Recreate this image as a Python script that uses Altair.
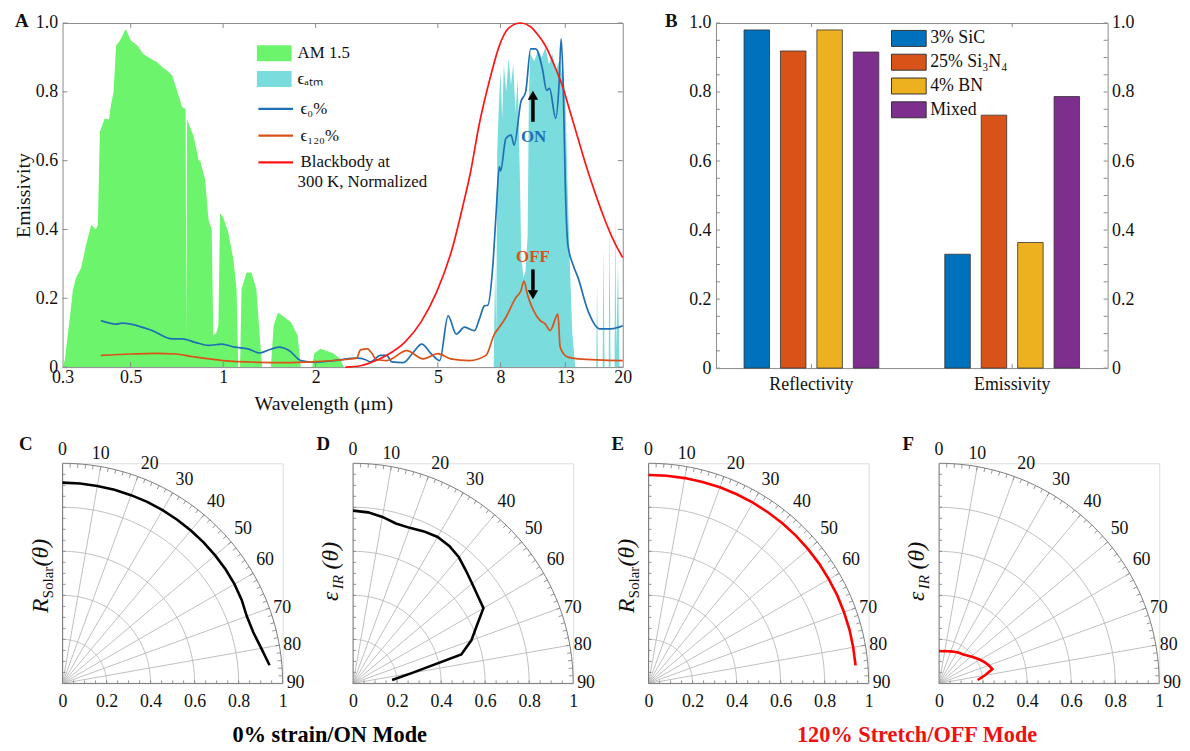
import altair as alt
import pandas as pd

SERIF = "Liberation Serif"
TXT = "#111111"
FRAME = "#8a8a8a"
GRID = "#b8b8b8"
GREEN = "#6cf56c"
TEAL = "#7adcdc"
BLUE = "#1f6fb5"
ORANGE = "#d95319"
RED = "#ff1414"

# ---------------- Panel A data ----------------
am_wl = [0.300, 0.305, 0.317, 0.324, 0.332, 0.345, 0.358, 0.372, 0.385, 0.391, 0.395, 0.397, 0.411, 0.425,
         0.431, 0.440, 0.448, 0.462, 0.482, 0.500, 0.526, 0.550, 0.581, 0.610, 0.633, 0.660, 0.682, 0.710,
         0.735, 0.755, 0.759, 0.763, 0.772, 0.802, 0.832, 0.842, 0.874, 0.896, 0.918, 0.929, 0.950, 0.965,
         0.977, 1.002, 1.040, 1.080, 1.106, 1.120, 1.135, 1.148, 1.191, 1.236, 1.283, 1.315, 1.340, 1.430,
         1.460, 1.508, 1.584, 1.664, 1.748, 1.790, 1.950, 1.980, 2.077, 2.200, 2.293, 2.400, 2.470]
am_val = [0.000, 0.019, 0.145, 0.222, 0.260, 0.289, 0.356, 0.414, 0.400, 0.414, 0.600, 0.684, 0.722, 0.720,
          0.761, 0.800, 0.934, 0.950, 0.983, 0.950, 0.934, 0.910, 0.896, 0.886, 0.872, 0.860, 0.848, 0.800,
          0.756, 0.750, 0.080, 0.720, 0.708, 0.670, 0.602, 0.600, 0.544, 0.429, 0.400, 0.092, 0.100, 0.120,
          0.448, 0.434, 0.390, 0.313, 0.226, 0.000, 0.000, 0.226, 0.275, 0.275, 0.226, 0.092, 0.000, 0.000,
          0.120, 0.159, 0.145, 0.130, 0.092, 0.000, 0.000, 0.040, 0.053, 0.045, 0.039, 0.025, 0.000]

atm_wl = [7.60, 7.68, 7.75, 7.80, 7.90, 8.00, 8.10, 8.20, 8.35, 8.50, 8.65, 8.80, 8.95, 9.10, 9.25, 9.35,
          9.50, 9.65, 9.80, 9.90, 10.0, 10.3, 10.6, 10.9, 11.2, 11.5, 11.8, 12.1, 12.4, 12.7, 13.0, 13.2,
          13.45, 13.7, 14.0, 16.4, 16.5, 16.6, 17.2, 17.3, 17.45, 18.0, 18.1, 18.25, 18.8, 18.9, 19.05, 19.3,
          19.5, 20.0]
atm_val = [0.00, 0.30, 0.10, 0.62, 0.76, 0.86, 0.72, 0.88, 0.80, 0.90, 0.82, 0.88, 0.74, 0.84, 0.55, 0.32,
           0.26, 0.28, 0.38, 0.80, 0.91, 0.89, 0.92, 0.90, 0.93, 0.88, 0.91, 0.86, 0.89, 0.85, 0.80, 0.55,
           0.30, 0.10, 0.00, 0.00, 0.25, 0.00, 0.00, 0.35, 0.00, 0.00, 0.42, 0.00, 0.00, 0.45, 0.05, 0.30,
           0.00, 0.00]

e0_wl = [0.40, 0.448, 0.47, 0.50, 0.588, 0.682, 0.735, 0.811, 0.896, 0.989, 1.092, 1.206, 1.315, 1.39,
         1.525, 1.64, 1.79, 2.0, 2.29, 2.73, 2.9, 3.02, 3.25, 3.41, 3.54, 3.865, 4.16, 4.43, 4.77, 5.07,
         5.40, 5.74, 6.11, 6.58, 6.83, 7.09, 7.27, 7.55, 7.74, 7.93, 8.0, 8.33, 8.66, 8.86, 9.32, 9.66,
         10.03, 10.41, 10.95, 11.3, 11.55, 12.1, 12.4, 12.6, 12.8, 13.0, 13.25, 13.76, 14.3, 15.4, 16.84,
         18.3, 20.0]
e0_val = [0.135, 0.125, 0.128, 0.125, 0.106, 0.082, 0.082, 0.072, 0.063, 0.067, 0.058, 0.053, 0.041, 0.048,
          0.058, 0.048, 0.019, 0.014, 0.019, 0.026, 0.022, 0.015, 0.034, 0.034, 0.015, 0.013, 0.043, 0.067,
          0.038, 0.019, 0.149, 0.096, 0.116, 0.106, 0.140, 0.178, 0.180, 0.294, 0.448, 0.583, 0.570, 0.665,
          0.674, 0.645, 0.771, 0.800, 0.925, 0.925, 0.867, 0.804, 0.810, 0.723, 0.819, 0.954, 0.819, 0.530,
          0.356, 0.299, 0.260, 0.164, 0.111, 0.111, 0.120]

e120_wl = [0.40, 0.50, 0.60, 0.70, 0.80, 1.00, 1.30, 1.60, 2.00, 2.50, 2.72, 2.80, 2.95, 3.05, 3.15, 3.41,
           3.96, 4.48, 5.01, 5.50, 6.34, 7.17, 7.64, 7.93, 8.33, 8.97, 9.32, 9.54, 9.78, 10.25, 10.77, 11.2,
           11.6, 12.3, 12.5, 12.8, 13.25, 14.3, 20.0]
e120_val = [0.034, 0.038, 0.040, 0.038, 0.030, 0.019, 0.014, 0.013, 0.016, 0.022, 0.026, 0.050, 0.053, 0.040,
            0.022, 0.019, 0.048, 0.024, 0.039, 0.024, 0.019, 0.034, 0.096, 0.116, 0.145, 0.202, 0.222, 0.250,
            0.212, 0.164, 0.135, 0.125, 0.106, 0.154, 0.060, 0.040, 0.029, 0.024, 0.019]

bb_wl = [2.5, 2.8, 3.0, 3.4, 3.9, 4.4, 4.95, 5.6, 6.0, 6.4, 6.8, 7.4, 7.9, 8.5, 9.3, 10.0, 10.6, 11.2, 12.0,
         12.7, 13.5, 14.35, 15.2, 16.2, 17.2, 18.3, 19.1, 20.0]
bb_val = [0.000, 0.004, 0.012, 0.034, 0.072, 0.130, 0.217, 0.352, 0.460, 0.570, 0.700, 0.840, 0.930, 0.985,
          1.000, 0.990, 0.965, 0.934, 0.875, 0.819, 0.740, 0.660, 0.585, 0.510, 0.445, 0.385, 0.350, 0.318]

a_xticks = [0.3, 0.5, 1, 2, 5, 8, 13, 20]
a_xinner = [0.5, 1, 2, 5, 8, 13]
a_yticks = [0, 0.2, 0.4, 0.6, 0.8, 1.0]

# ON / OFF annotations
ann_wl = [10.25, 10.2]
ann_v = [0.67, 0.32]
ann_txt = ["ON", "OFF"]
arrow_wl = [10.2, 10.2]
arrow_from = [0.713, 0.284]
arrow_to = [0.778, 0.222]
head_v = [0.790, 0.210]
head_dir = ["up", "down"]

# ---------------- Panel B data ----------------
groups = ["Reflectivity", "Emissivity"]
materials = ["3% SiC", "25% Si₃N₄", "4% BN", "Mixed"]
refl_vals = [0.980, 0.919, 0.980, 0.916]
emis_vals = [0.330, 0.733, 0.364, 0.787]
b_colors = ["#0072bd", "#d95319", "#edb120", "#7e2f8e"]
b_yticks = [0, 0.2, 0.4, 0.6, 0.8, 1.0]
b_minor = [0.05 * i for i in range(21)]

# ---------------- Polar data ----------------
theta_deg = [0, 5, 10, 15, 20, 25, 30, 35, 40, 45, 50, 55, 60, 65, 70, 75, 80, 85]
rC = [0.912, 0.912, 0.911, 0.911, 0.910, 0.910, 0.909, 0.908, 0.907, 0.906, 0.905, 0.904, 0.902, 0.898,
      0.891, 0.897, 0.917, 0.944]
rD = [0.785, 0.780, 0.768, 0.752, 0.752, 0.762, 0.768, 0.762, 0.748, 0.725, 0.706, 0.692, 0.684, 0.620,
      0.572, 0.509, 0.270, 0.178]
rE = [0.947, 0.947, 0.947, 0.947, 0.948, 0.948, 0.948, 0.948, 0.948, 0.948, 0.947, 0.947, 0.946, 0.946,
      0.945, 0.945, 0.944, 0.944]
rF = [0.147, 0.147, 0.149, 0.151, 0.155, 0.159, 0.163, 0.167, 0.172, 0.180, 0.190, 0.202, 0.215, 0.228,
      0.240, 0.251, 0.212, 0.176]
ring_vals = [0.2, 0.4, 0.6, 0.8]
spoke_degs = [10, 20, 30, 40, 50, 60, 70, 80]
radial_ticks = [0, 0.2, 0.4, 0.6, 0.8, 1.0]

one = pd.DataFrame({"k": [0]})


def txt(text, x, y, size=18, weight="normal", style="normal", color=TXT, align="center",
        baseline="middle", angle=0, opacity=1.0):
    return alt.Chart(one).mark_text(
        text=text, font=SERIF, fontSize=size, fontWeight=weight, fontStyle=style, color=color,
        align=align, baseline=baseline, angle=angle, opacity=opacity
    ).encode(x=alt.value(x), y=alt.value(y))


# ================= Panel A =================
WA, HA = 565, 347
xA = alt.X("wl:Q", scale=alt.Scale(type="log", domain=[0.3, 20], nice=False),
           axis=alt.Axis(values=a_xticks, labelExpr="format(datum.value, '~g')", title="Wavelength (μm)",
                         ticks=False, domain=False, grid=False, labelFont=SERIF, labelFontSize=18,
                         labelColor=TXT, labelPadding=2, labelFlush=False, labelOverlap=False,
                         titleFont=SERIF, titleFontSize=20, titleFontWeight="normal", titleColor=TXT,
                         titlePadding=7, titleX=263))
yA = alt.Y("v:Q", stack=None, scale=alt.Scale(domain=[0, 1], nice=False),
           axis=alt.Axis(values=a_yticks, labelExpr="datum.value == 0 ? '0' : format(datum.value, '.1f')",
                         title="Emissivity", ticks=False, domain=False, grid=False, labelFont=SERIF,
                         labelFontSize=18, labelColor=TXT, labelPadding=5, titleFont=SERIF,
                         titleFontSize=20, titleFontWeight="normal", titleColor=TXT, titlePadding=2))

area_df = pd.concat([
    pd.DataFrame({"wl": am_wl, "v": am_val, "s": "am"}),
    pd.DataFrame({"wl": atm_wl, "v": atm_val, "s": "atm"}),
])
areas = alt.Chart(area_df).mark_area(opacity=1, interpolate="linear").encode(
    x=xA, y=yA,
    fill=alt.Fill("s:N", scale=alt.Scale(domain=["am", "atm"], range=[GREEN, TEAL]),
                  legend=alt.Legend(orient="none", legendX=196, legendY=13, title=None, padding=0,
                                    symbolType="M-1,-0.46H1V0.46H-1Z", symbolSize=1225, symbolStrokeWidth=0,
                                    symbolOpacity=1, labelFont=SERIF, labelFontSize=17, labelColor=TXT,
                                    labelOffset=6, rowPadding=-5,
                                    labelExpr="datum.value == 'am' ? 'AM 1.5' : 'ϵₐₜₘ'")))

line_df = pd.concat([
    pd.DataFrame({"wl": e0_wl, "v": e0_val, "s": "e0"}),
    pd.DataFrame({"wl": e120_wl, "v": e120_val, "s": "e120"}),
    pd.DataFrame({"wl": bb_wl, "v": bb_val, "s": "bb"}),
])
lines = alt.Chart(line_df).mark_line(strokeWidth=1.7, interpolate="monotone").encode(
    x=xA, y=yA,
    stroke=alt.Stroke("s:N", scale=alt.Scale(domain=["e0", "e120", "bb"], range=[BLUE, ORANGE, RED]),
                      legend=alt.Legend(orient="none", legendX=196, legendY=67.5, title=None, padding=0,
                                        symbolType="M-1,0H1", symbolSize=1225, symbolStrokeWidth=2.2,
                                        labelFont=SERIF, labelFontSize=17, labelColor=TXT, labelOffset=6,
                                        rowPadding=-6.5,
                                        labelExpr="datum.value == 'e0' ? 'ϵ₀%' : datum.value == 'e120' ? 'ϵ₁₂₀%' : 'Blackbody at'")))

ytA = pd.DataFrame({"v": a_yticks})
xtA = pd.DataFrame({"wl": a_xinner})
tick_l = alt.Chart(ytA).mark_rule(color=FRAME).encode(y=yA, x=alt.value(0), x2=alt.value(5))
tick_r = alt.Chart(ytA).mark_rule(color=FRAME).encode(y=yA, x=alt.value(WA - 5), x2=alt.value(WA))
tick_b = alt.Chart(xtA).mark_rule(color=FRAME).encode(x=xA, y=alt.value(HA - 5), y2=alt.value(HA))
tick_t = alt.Chart(xtA).mark_rule(color=FRAME).encode(x=xA, y=alt.value(0), y2=alt.value(5))

ann_df = pd.DataFrame({"wl": ann_wl, "v": ann_v, "t": ann_txt})
ann = alt.Chart(ann_df).mark_text(font=SERIF, fontSize=17, fontWeight="bold").encode(
    x=xA, y=yA, text="t:N",
    color=alt.Color("t:N", scale=alt.Scale(domain=["ON", "OFF"], range=[BLUE, ORANGE]), legend=None))
arr_df = pd.DataFrame({"wl": arrow_wl, "v": arrow_from, "v2": arrow_to})
shafts = alt.Chart(arr_df).mark_rule(color="black", strokeWidth=3.5).encode(x=xA, y=yA, y2="v2:Q")
head_df = pd.DataFrame({"wl": arrow_wl, "v": head_v, "d": head_dir})
heads = alt.Chart(head_df).mark_point(filled=True, color="black", opacity=1, size=110).encode(
    x=xA, y=yA,
    shape=alt.Shape("d:N", scale=alt.Scale(domain=["up", "down"], range=["triangle-up", "triangle-down"]),
                    legend=None))

panel_A = alt.layer(
    areas, lines, tick_l, tick_r, tick_b, tick_t, shafts, heads, ann,
    txt("300 K, Normalized", 237, 160, size=17, align="left"),
    txt("A", -41, -11, size=19, weight="bold", baseline="top"),
    txt("A", -50, 0, size=10, align="left", opacity=0),
).properties(width=WA, height=HA, view=alt.ViewBackground(stroke=FRAME, strokeWidth=1))

# ================= Panel B =================
WB, HB = 395, 348
b_df = pd.DataFrame({
    "group": [g for g in groups for _ in materials],
    "material": materials * 2,
    "val": refl_vals + emis_vals,
})
b_axis_x = alt.Axis(title=None, ticks=False, domain=False, labelAngle=0, labelFont=SERIF, labelFontSize=18,
                    labelColor=TXT, labelPadding=8)
b_xscale = alt.Scale(paddingInner=0.1, paddingOuter=0.0255)
xB = alt.X("group:N", sort=groups, scale=b_xscale, axis=b_axis_x)
xBc = alt.X("group:N", sort=groups, scale=b_xscale, axis=b_axis_x, bandPosition=0.5)
b_ylab = "datum.value == 0 ? '0' : format(datum.value, '.1f')"
yB = alt.Y("val:Q", scale=alt.Scale(domain=[0, 1], nice=False),
           axis=alt.Axis(values=b_yticks, labelExpr=b_ylab, title=None, ticks=False, domain=False, grid=False,
                         labelFont=SERIF, labelFontSize=18, labelColor=TXT, labelPadding=5))
# legend symbol: 35x16 rectangle drawn from a path twice as wide as the nominal symbol size
bars = alt.Chart(b_df).mark_bar(stroke="#333333", strokeWidth=0.8).encode(
    x=xB,
    xOffset=alt.XOffset("material:N", sort=materials, scale=alt.Scale(paddingInner=0.3, paddingOuter=0.63)),
    y=yB,
    color=alt.Color("material:N", sort=materials, scale=alt.Scale(domain=materials, range=b_colors),
                    legend=alt.Legend(orient="none", legendX=185, legendY=6, title=None, padding=0,
                                      symbolType="M-2,-0.92H2V0.92H-2Z", symbolSize=306,
                                      symbolStrokeColor="#333333", symbolStrokeWidth=1, symbolOpacity=1,
                                      labelFont=SERIF, labelFontSize=18, labelColor=TXT, labelOffset=12,
                                      rowPadding=3)))
bm_df = pd.DataFrame({"val": b_minor})
b_tick_l = alt.Chart(bm_df).mark_rule(color=FRAME).encode(
    y=alt.Y("val:Q", scale=alt.Scale(domain=[0, 1], nice=False), axis=None),
    x=alt.value(0), x2=alt.value(4))
b_tick_r = alt.Chart(bm_df).mark_rule(color=FRAME).encode(
    y=alt.Y("val:Q", scale=alt.Scale(domain=[0, 1], nice=False),
            axis=alt.Axis(orient="right", values=b_yticks, labelExpr=b_ylab, title=None, ticks=False,
                          domain=False, grid=False, labelFont=SERIF, labelFontSize=18, labelColor=TXT,
                          labelPadding=4)),
    x=alt.value(WB - 4), x2=alt.value(WB))
bg_df = pd.DataFrame({"group": groups})
b_tick_t = alt.Chart(bg_df).mark_rule(color=FRAME).encode(x=xBc, y=alt.value(0), y2=alt.value(4))
b_tick_b = alt.Chart(bg_df).mark_rule(color=FRAME).encode(x=xBc, y=alt.value(HB - 4), y2=alt.value(HB))

panel_B = alt.layer(
    bars, b_tick_l, b_tick_r, b_tick_t, b_tick_b,
    txt("B", -45, -11, size=19, weight="bold", baseline="top"),
).resolve_scale(y="independent").properties(width=WB, height=HB,
                                            view=alt.ViewBackground(stroke=FRAME, strokeWidth=1))

# ================= Polar panels =================
P = 222
DEG = "PI/180"


def polar_panel(letter, r_vals, line_color, kind, letter_x, spacer_x=None):
    xP = alt.X("x:Q", scale=alt.Scale(domain=[0, 1], nice=False, zero=False),
               axis=alt.Axis(values=radial_ticks,
                             labelExpr="datum.value == 0 ? '0' : datum.value == 1 ? '1' : format(datum.value, '.1f')",
                             title=None, ticks=False, domain=False, grid=False, labelFont=SERIF,
                             labelFontSize=18, labelColor=TXT, labelPadding=9, labelFlush=False,
                             labelOverlap=False))
    yP = alt.Y("y:Q", scale=alt.Scale(domain=[0, 1], nice=False, zero=False), axis=None)

    ring_df = pd.DataFrame([(r, d) for r in ring_vals for d in range(0, 91)], columns=["r", "deg"])
    rings = alt.Chart(ring_df).transform_calculate(
        x=f"datum.r*sin(datum.deg*{DEG})", y=f"datum.r*cos(datum.deg*{DEG})"
    ).mark_line(color=GRID, strokeWidth=0.9).encode(x=xP, y=yP, detail="r:N", order="deg:Q")

    outer_df = pd.DataFrame({"r": 1.0, "deg": list(range(0, 91))})
    outer = alt.Chart(outer_df).transform_calculate(
        x=f"datum.r*sin(datum.deg*{DEG})", y=f"datum.r*cos(datum.deg*{DEG})"
    ).mark_line(color="#7a7a7a", strokeWidth=1).encode(x=xP, y=yP, order="deg:Q")

    spokes = alt.Chart(pd.DataFrame({"deg": spoke_degs})).transform_calculate(
        x="0", y="0", x2v=f"sin(datum.deg*{DEG})", y2v=f"cos(datum.deg*{DEG})"
    ).mark_rule(color=GRID, strokeWidth=0.9).encode(x=xP, y=yP, x2="x2v:Q", y2="y2v:Q")
    edges = alt.Chart(pd.DataFrame({"deg": [0, 90]})).transform_calculate(
        x="0", y="0", x2v=f"sin(datum.deg*{DEG})", y2v=f"cos(datum.deg*{DEG})"
    ).mark_rule(color="#7a7a7a", strokeWidth=1).encode(x=xP, y=yP, x2="x2v:Q", y2="y2v:Q")

    tl = 4.0 / P
    arc_ticks = alt.Chart(pd.DataFrame({"deg": list(range(2, 90, 2))})).transform_calculate(
        x=f"sin(datum.deg*{DEG})", y=f"cos(datum.deg*{DEG})",
        x2v=f"{1 - tl}*sin(datum.deg*{DEG})", y2v=f"{1 - tl}*cos(datum.deg*{DEG})"
    ).mark_rule(color="#7a7a7a", strokeWidth=0.8).encode(x=xP, y=yP, x2="x2v:Q", y2="y2v:Q")

    et = [round(0.05 * i, 2) for i in range(1, 20)]
    el = 3.0 / P
    bot_ticks = alt.Chart(pd.DataFrame({"t": et})).transform_calculate(
        x="datum.t", y="0", x2v="datum.t", y2v=f"{el}"
    ).mark_rule(color="#7a7a7a", strokeWidth=0.8).encode(x=xP, y=yP, x2="x2v:Q", y2="y2v:Q")
    left_ticks = alt.Chart(pd.DataFrame({"t": et})).transform_calculate(
        x="0", y="datum.t", x2v=f"{el}", y2v="datum.t"
    ).mark_rule(color="#7a7a7a", strokeWidth=0.8).encode(x=xP, y=yP, x2="x2v:Q", y2="y2v:Q")

    curve = alt.Chart(pd.DataFrame({"deg": theta_deg, "r": r_vals})).transform_calculate(
        x=f"datum.r*sin(datum.deg*{DEG})", y=f"datum.r*cos(datum.deg*{DEG})"
    ).mark_line(color=line_color, strokeWidth=2.6).encode(x=xP, y=yP, order="deg:Q")

    def lab(degs, align, baseline, dx, dy):
        return alt.Chart(pd.DataFrame({"deg": degs})).transform_calculate(
            x=f"sin(datum.deg*{DEG})", y=f"cos(datum.deg*{DEG})", lab="toString(datum.deg)"
        ).mark_text(font=SERIF, fontSize=18, color=TXT, align=align, baseline=baseline, dx=dx, dy=dy).encode(
            x=xP, y=yP, text="lab:N")

    lab_a = lab([0, 10], "center", "middle", 0, -13)
    lab_b = lab([20, 30, 40, 50, 60], "left", "bottom", 3, -4)
    lab_c = lab([70, 80, 90], "left", "middle", 4, 0)

    if kind == "R":
        ytitle = [txt("R", -15, 151, size=24, style="italic", align="left", baseline="alphabetic", angle=270),
                  txt("Solar", -10, 136, size=15, align="left", baseline="alphabetic", angle=270),
                  txt("(θ)", -15, 104, size=24, style="italic", align="left", baseline="alphabetic", angle=270)]
    else:
        ytitle = [txt("ε", -15, 139, size=24, style="italic", align="left", baseline="alphabetic", angle=270),
                  txt("IR", -10, 127, size=15, style="italic", align="left", baseline="alphabetic", angle=270),
                  txt("(θ)", -15, 107, size=24, style="italic", align="left", baseline="alphabetic", angle=270)]

    extra = [txt(letter, letter_x, -19, size=19, weight="bold")]
    if spacer_x is not None:
        extra.append(txt(letter, spacer_x, 0, size=10, align="left", opacity=0))

    return alt.layer(rings, spokes, outer, edges, arc_ticks, bot_ticks, left_ticks, curve,
                     lab_a, lab_b, lab_c, *ytitle, *extra).properties(width=P, height=P)


panel_C = polar_panel("C", rC, "black", "R", -37, spacer_x=-54)
panel_D = polar_panel("D", rD, "black", "e", -30)
panel_E = polar_panel("E", rE, "#ff0000", "R", -31)
panel_F = polar_panel("F", rF, "#ff0000", "e", -31)

cd = alt.hconcat(panel_C, panel_D, spacing=10,
                 title=alt.TitleParams("0% strain/ON Mode", orient="bottom", anchor="middle", font=SERIF,
                                       fontSize=22.5, fontWeight="bold", color="black", offset=14, dx=28))
ef = alt.hconcat(panel_E, panel_F, spacing=10,
                 title=alt.TitleParams("120% Stretch/OFF Mode", orient="bottom", anchor="middle", font=SERIF,
                                       fontSize=22.5, fontWeight="bold", color="#ee1111", offset=14, dx=21))
bottom = alt.hconcat(cd, ef, spacing=15)
top = alt.hconcat(panel_A, panel_B, spacing=32).resolve_scale(color="independent", fill="independent",
                                                             stroke="independent")

chart = alt.vconcat(top, bottom, spacing=20).resolve_scale(color="independent").properties(
    padding=0
).configure_view(stroke=None).configure(font=SERIF)

chart.save("out.html", embed_options={"renderer": "svg", "actions": False})
